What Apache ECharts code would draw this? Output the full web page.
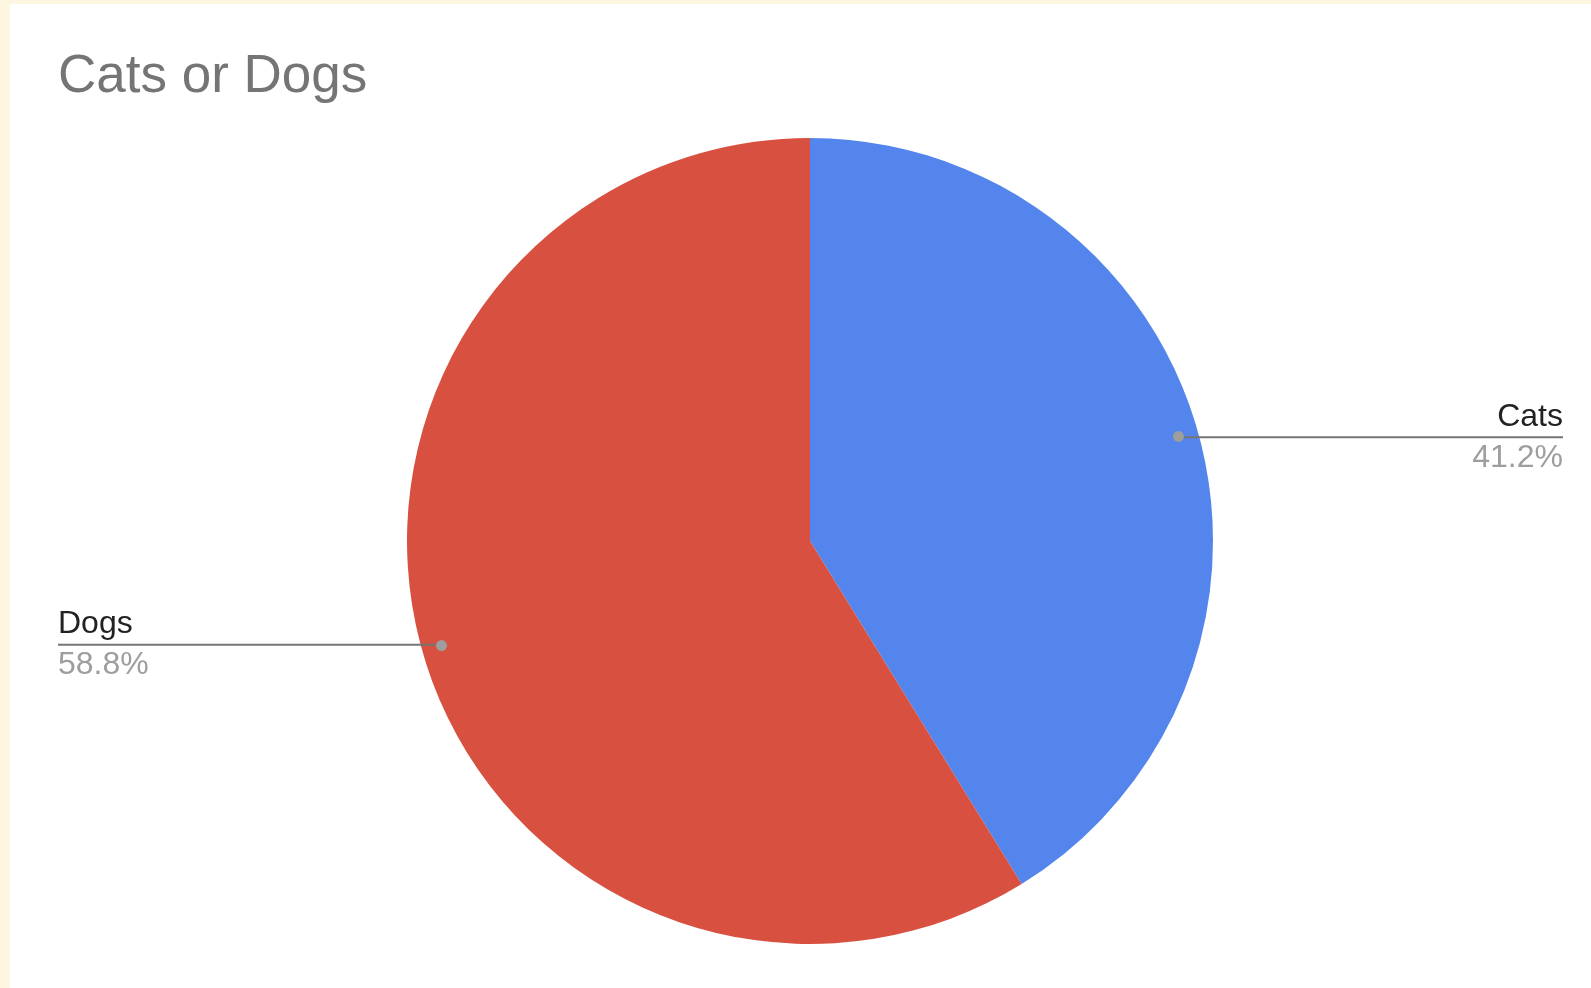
<!DOCTYPE html>
<html>
<head>
<meta charset="utf-8">
<script src="https://cdn.jsdelivr.net/npm/echarts@6/dist/echarts.min.js"></script>
<style>
  html, body { margin: 0; padding: 0; background: #fdf6e1; width: 1591px; height: 988px; overflow: hidden; }
  #chart { position: absolute; left: 10px; top: 4px; width: 1581px; height: 984px; background: #ffffff; }
</style>
</head>
<body>
<div id="chart"></div>
<script>
// ---- data ----
const titleText = 'Cats or Dogs';
const categories = ['Cats', 'Dogs'];
const values = [41.2, 58.8];
const colors = ['#5485ec', '#d85140'];

// ---- layout constants ----
const CX = 800, CY = 537, R = 403;
const DOT_FRAC = 0.943;
const RIGHT_EDGE = 1553, LEFT_EDGE = 48;
const FONT = 'Liberation Sans, Arial, Helvetica, sans-serif';

const data = categories.map((c, i) => ({ name: c, value: values[i], itemStyle: { color: colors[i] } }));
const plainData = categories.map((c, i) => ({ name: c, value: values[i] }));

const chart = echarts.init(document.getElementById('chart'), null, { renderer: 'canvas' });
chart.setOption({
  animation: false,
  backgroundColor: '#ffffff',
  title: {
    text: titleText,
    left: 48,
    top: 47,
    padding: 0,
    textStyle: { fontFamily: FONT, fontSize: 53, fontWeight: 'normal', color: '#757575' }
  },
  series: [
    {
      // coloured slices
      type: 'pie',
      z: 2,
      center: [CX, CY],
      radius: [0, R],
      startAngle: 90,
      clockwise: true,
      data: data,
      itemStyle: { borderWidth: 0 },
      emphasis: { disabled: true },
      label: { show: false },
      labelLine: { show: false }
    },
    {
      // labels + leader lines (transparent slices, drawn above)
      type: 'pie',
      z: 3,
      center: [CX, CY],
      radius: [0, R],
      startAngle: 90,
      clockwise: true,
      silent: true,
      data: plainData,
      avoidLabelOverlap: false,
      percentPrecision: 1,
      itemStyle: { color: 'rgba(0,0,0,0)' },
      label: {
        show: true,
        position: 'outside',
        formatter: '{n|{b}}\n{p|{d}%}',
        rich: {
          n: { fontFamily: FONT, fontSize: 32, color: '#222222', lineHeight: 41 },
          p: { fontFamily: FONT, fontSize: 32, color: '#9e9e9e', lineHeight: 41 }
        }
      },
      labelLine: { show: true, length: 10, length2: 10, lineStyle: { color: '#757575', width: 2 } },
      labelLayout: function (params) {
        const p = params.labelLinePoints[0];
        const x0 = CX + (p[0] - CX) * DOT_FRAC;
        const y0 = CY + (p[1] - CY) * DOT_FRAC;
        const right = x0 > CX;
        const xe = right ? RIGHT_EDGE : LEFT_EDGE;
        return {
          x: xe,
          y: y0,
          align: right ? 'right' : 'left',
          verticalAlign: 'middle',
          labelLinePoints: [[x0, y0], [x0, y0], [xe, y0]]
        };
      }
    },
    {
      // dots at the start of the leader lines
      type: 'pie',
      z: 4,
      center: [CX, CY],
      radius: [R * (2 * DOT_FRAC - 1), R],
      startAngle: 90,
      clockwise: true,
      silent: true,
      data: plainData,
      itemStyle: { color: 'rgba(0,0,0,0)' },
      label: {
        show: true,
        position: 'inside',
        formatter: '{dot| }',
        rich: { dot: { width: 11, height: 11, borderRadius: 5.5, backgroundColor: '#9e9e9e' } }
      },
      labelLine: { show: false }
    }
  ]
});
</script>
</body>
</html>
